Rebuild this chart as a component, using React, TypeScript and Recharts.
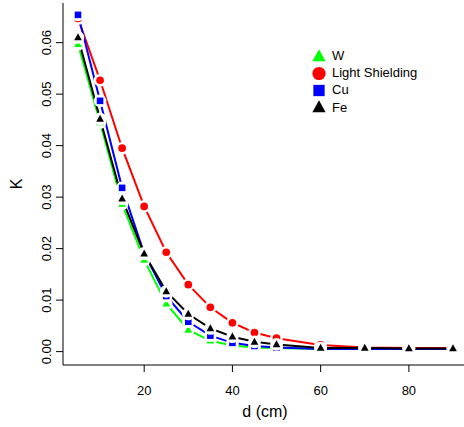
import { LineChart, Line, XAxis, YAxis, Legend } from "recharts";

const distances = [5, 10, 15, 20, 25, 30, 35, 40, 45, 50, 60, 70, 80, 90];
const wValues = [0.0597, 0.0445, 0.0287, 0.0178, 0.0093, 0.0042, 0.0021, 0.0012, 0.0008, 0.0007, 0.0005, 0.0005, 0.0005, 0.0005];
const lightValues = [0.0647, 0.0527, 0.0395, 0.0282, 0.0193, 0.013, 0.0086, 0.0056, 0.0037, 0.0026, 0.0013, 0.0008, 0.0007, 0.0007];
const cuValues = [0.0654, 0.0487, 0.0318, 0.0191, 0.0108, 0.0058, 0.0031, 0.0017, 0.0011, 0.0008, 0.0005, 0.0005, 0.0005, 0.0005];
const feValues = [0.061, 0.0452, 0.0297, 0.019, 0.0117, 0.0073, 0.0045, 0.0029, 0.0019, 0.0014, 0.0007, 0.0007, 0.0006, 0.0006];
const xTicks = [20, 40, 60, 80];
const yTicks = [0, 0.01, 0.02, 0.03, 0.04, 0.05, 0.06];

const data = distances.map((d, i) => ({
  d,
  w: wValues[i],
  light: lightValues[i],
  cu: cuValues[i],
  fe: feValues[i],
}));

type Shape = "triangle" | "circle" | "square";

const series: { key: string; label: string; color: string; shape: Shape }[] = [
  { key: "w", label: "W", color: "#00ff00", shape: "triangle" },
  { key: "light", label: "Light Shielding", color: "#ff0000", shape: "circle" },
  { key: "cu", label: "Cu", color: "#0000ff", shape: "square" },
  { key: "fe", label: "Fe", color: "#000000", shape: "triangle" },
];

const FONT = "'Liberation Sans', Arial, sans-serif";

function marker(shape: Shape, cx: number, cy: number, color: string, s: number) {
  if (shape === "circle") return <circle cx={cx} cy={cy} r={s * 0.55} fill={color} />;
  if (shape === "square")
    return <rect x={cx - s * 0.47} y={cy - s * 0.47} width={s * 0.94} height={s * 0.94} fill={color} />;
  return (
    <polygon
      points={`${cx},${cy - s * 0.6} ${cx - s * 0.55},${cy + s * 0.4} ${cx + s * 0.55},${cy + s * 0.4}`}
      fill={color}
    />
  );
}

// type="b" style: white gap around each point, then the symbol
const makeDot = (shape: Shape, color: string) => (props: any) => {
  const { cx, cy, index } = props;
  return (
    <g key={`dot-${index}`}>
      <circle cx={cx} cy={cy} r={6.3} fill="#ffffff" />
      {marker(shape, cx, cy, color, 7)}
    </g>
  );
};

const XTick = (props: any) => (
  <text x={props.x} y={props.y + 21} textAnchor="middle" fontSize={13} fontFamily={FONT} fill="#000">
    {props.payload.value}
  </text>
);

const YTick = (props: any) => {
  const x = props.x - 3;
  return (
    <text
      x={x}
      y={props.y}
      transform={`rotate(-90 ${x} ${props.y})`}
      textAnchor="middle"
      fontSize={13}
      fontFamily={FONT}
      fill="#000"
    >
      {Number(props.payload.value).toFixed(2)}
    </text>
  );
};

const renderLegend = () => (
  <div style={{ fontFamily: FONT, fontSize: 13, color: "#000" }}>
    {series.map((s) => (
      <div key={s.key} style={{ display: "flex", alignItems: "center", height: 17.2 }}>
        <svg width={16} height={16} style={{ marginRight: 5 }}>
          {marker(s.shape, 8, 8.5, s.color, 12)}
        </svg>
        <span>{s.label}</span>
      </div>
    ))}
  </div>
);

export default function App() {
  return (
    <div style={{ position: "absolute", left: 0, top: 0, width: 464, height: 427, overflow: "hidden", background: "#fff" }}>
      <LineChart width={468} height={427} data={data} margin={{ top: 3, right: 0, bottom: 0, left: 0 }}>
        <XAxis
          dataKey="d"
          type="number"
          domain={[1.6, 93.4]}
          ticks={xTicks}
          tickSize={7}
          tick={<XTick />}
          height={62}
          stroke="#000"
          tickLine={{ stroke: "#000" }}
          allowDataOverflow
          label={{
            content: () => (
              <text x={265} y={417} textAnchor="middle" fontSize={16} fontFamily={FONT} fill="#000">
                d (cm)
              </text>
            ),
          }}
        />
        <YAxis
          type="number"
          domain={[-0.0026, 0.0677]}
          ticks={yTicks}
          tickSize={7}
          tick={<YTick />}
          width={63}
          stroke="#000"
          tickLine={{ stroke: "#000" }}
          allowDataOverflow
          label={{
            content: () => (
              <text x={21.5} y={184} transform="rotate(-90 21.5 184)" textAnchor="middle" fontSize={16} fontFamily={FONT} fill="#000">
                K
              </text>
            ),
          }}
        />
        <Legend
          layout="horizontal"
          verticalAlign="middle"
          align="center"
          content={renderLegend}
          wrapperStyle={{ position: "absolute", left: 311, top: 47, width: 140 }}
        />
        {series.map((s) => (
          <Line
            key={s.key}
            dataKey={s.key}
            name={s.label}
            stroke={s.color}
            strokeWidth={2}
            dot={makeDot(s.shape, s.color)}
            activeDot={false}
            isAnimationActive={false}
          />
        ))}
      </LineChart>
    </div>
  );
}
